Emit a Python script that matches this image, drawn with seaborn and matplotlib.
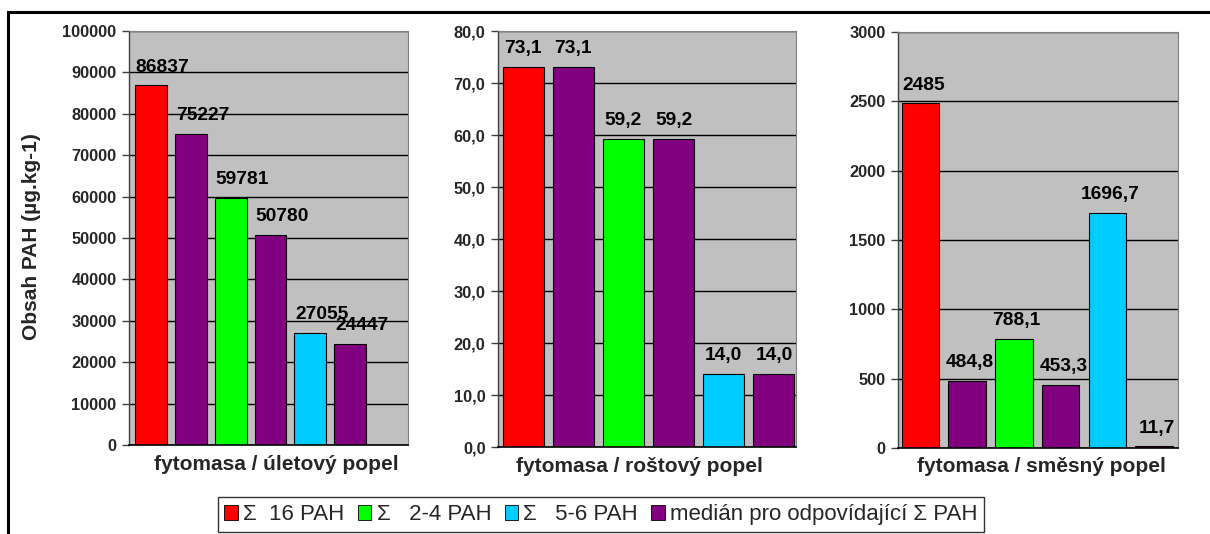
import matplotlib
matplotlib.use("Agg")
import matplotlib.pyplot as plt
from matplotlib.patches import Patch, Rectangle
from matplotlib.ticker import FuncFormatter, MultipleLocator
import pandas as pd
import seaborn as sns

sns.set_theme(style="white")
plt.rcParams["font.family"] = ["Liberation Sans", "DejaVu Sans"]

# Bar order within each panel
categories = ["Σ 16 PAH", "medián Σ 16 PAH", "Σ 2-4 PAH",
              "medián Σ 2-4 PAH", "Σ 5-6 PAH", "medián Σ 5-6 PAH"]
bar_colors = ["#FF0000", "#800080", "#00FF00", "#800080", "#00CCFF", "#800080"]

# PAH content per ash type (µg/kg)
fly_ash = [86837, 75227, 59781, 50780, 27055, 24447]
grate_ash = [73.1, 73.1, 59.2, 59.2, 14.0, 14.0]
mixed_ash = [2485, 484.8, 788.1, 453.3, 1696.7, 11.7]

# Decimal places shown in the value labels
fly_decimals = [0, 0, 0, 0, 0, 0]
grate_decimals = [1, 1, 1, 1, 1, 1]
mixed_decimals = [0, 1, 1, 1, 1, 1]

panel_titles = ["fytomasa / úletový popel", "fytomasa / roštový popel",
                "fytomasa / směsný popel"]
legend_labels = ["Σ  16 PAH", "Σ   2-4 PAH", "Σ   5-6 PAH",
                 "medián pro odpovídající Σ PAH"]
legend_colors = ["#FF0000", "#00FF00", "#00CCFF", "#800080"]

W, H = 1210, 534
fig = plt.figure(figsize=(W / 100, H / 100), dpi=100, facecolor="white")

# outer frame
fig.patches.append(Rectangle((8 / W, -0.1), 1.2, 1 - 11.5 / H + 0.1,
                             transform=fig.transFigure, fill=False,
                             edgecolor="black", linewidth=2.2, zorder=0))


def comma_fmt(decimals):
    def f(v, pos=None):
        return f"{v:.{decimals}f}".replace(".", ",")
    return f


def panel(px, values, decimals, ymax, ystep, tick_dec, xlim, width,
          label_dx, title, title_xy):
    x0, y0, x1, y1 = px
    ax = fig.add_axes([x0 / W, 1 - y1 / H, (x1 - x0) / W, (y1 - y0) / H])
    df = pd.DataFrame({"cat": categories, "val": values})
    sns.barplot(data=df, x="cat", y="val", hue="cat", order=categories,
                hue_order=categories,
                palette=dict(zip(categories, bar_colors)), legend=False,
                width=width, edgecolor="black", linewidth=0.8,
                saturation=1, ax=ax)
    ax.set_facecolor("#C0C0C0")
    ax.set_xlim(*xlim)
    ax.set_ylim(0, ymax)
    ax.yaxis.set_major_locator(MultipleLocator(ystep))
    ax.yaxis.set_major_formatter(FuncFormatter(comma_fmt(tick_dec)))
    ax.set_axisbelow(True)
    ax.yaxis.grid(True, color="black", linewidth=1)
    ax.set_xticks([])
    ax.set_xlabel("")
    ax.set_ylabel("")
    ax.tick_params(axis="y", left=True, length=5, width=1, color="#404040",
                   pad=4, labelsize=11.8)
    for lab in ax.get_yticklabels():
        lab.set_fontweight("bold")
    for side in ["top", "right"]:
        ax.spines[side].set_color("#808080")
        ax.spines[side].set_linewidth(0.8)
    ax.spines["left"].set_color("#404040")
    ax.spines["bottom"].set_color("black")
    ax.spines["left"].set_linewidth(1)
    ax.spines["bottom"].set_linewidth(1.2)
    for i, (v, d) in enumerate(zip(values, decimals)):
        ax.annotate(comma_fmt(d)(v), (i, v), xytext=(label_dx, 7),
                    textcoords="offset points", ha="center", va="bottom",
                    fontsize=13.8, fontweight="bold", color="black")
    fig.text(title_xy[0] / W, 1 - title_xy[1] / H, title, ha="center",
             va="center", fontsize=15, fontweight="bold")
    return ax


panel((129, 31, 408, 445), fly_ash, fly_decimals, 100000, 10000, 0,
      (-0.55, 6.45), 0.8, 8.5, panel_titles[0], (276, 465))
panel((498, 31, 796, 447), grate_ash, grate_decimals, 80, 10, 1,
      (-0.5, 5.44), 0.82, 0, panel_titles[1], (639, 467))
panel((898, 32, 1178, 448), mixed_ash, mixed_decimals, 3000, 500, 0,
      (-0.48, 5.51), 0.8, 2, panel_titles[2], (1041, 467))

fig.text(32 / W, 1 - 237 / H, "Obsah PAH (µg.kg-1)", rotation=90,
         ha="center", va="center", fontsize=15, fontweight="bold")

handles = [Patch(facecolor=c, edgecolor="black", linewidth=0.6)
           for c in legend_colors]
leg = fig.legend(handles, legend_labels, loc="center",
                 bbox_to_anchor=(601 / W, 1 - 514.5 / H), ncol=4,
                 fontsize=16, frameon=True, fancybox=False,
                 edgecolor="black", handlelength=0.6, handleheight=0.65,
                 handletextpad=0.25, columnspacing=0.6, borderpad=0.3,
                 borderaxespad=0)
leg.get_frame().set_linewidth(1)

fig.savefig("out.png", dpi=100, facecolor="white")
